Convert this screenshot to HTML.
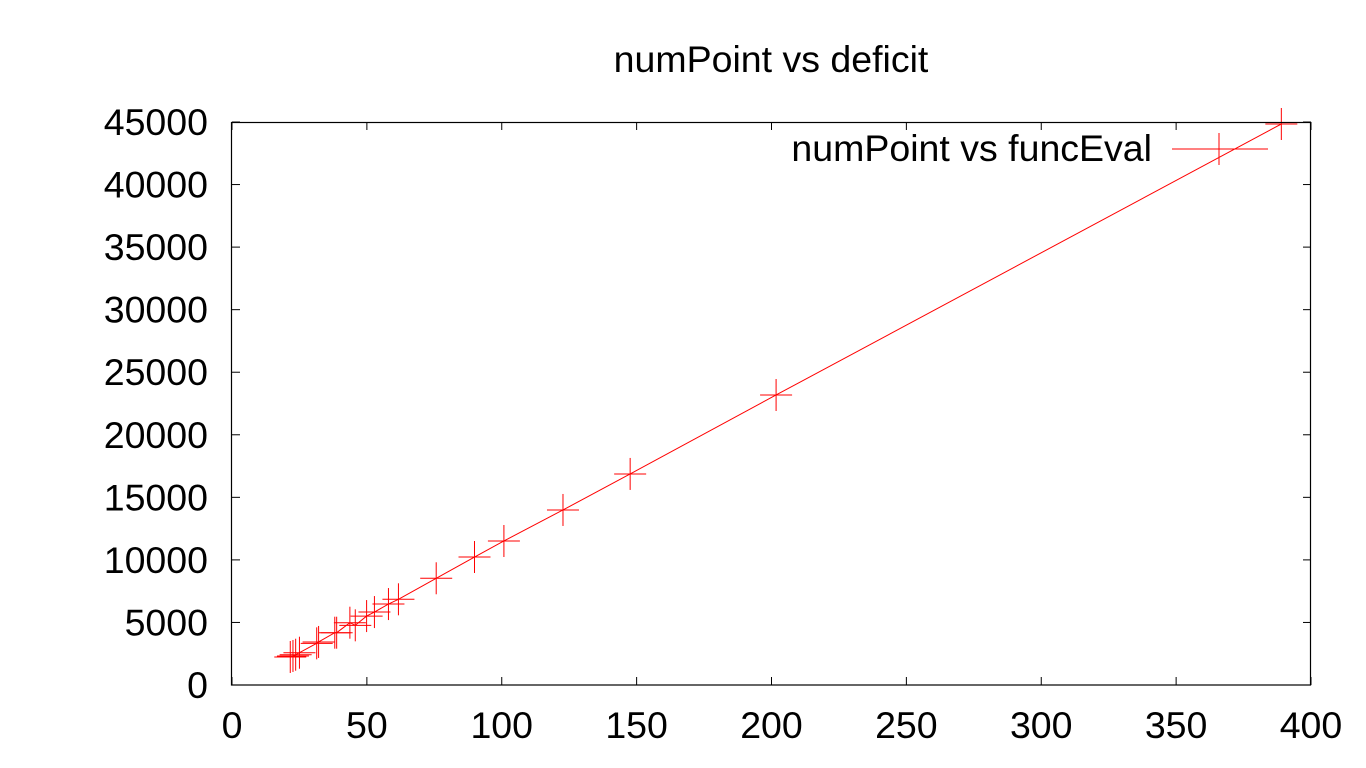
<!DOCTYPE html>
<html><head><meta charset="utf-8"><style>
html,body{margin:0;padding:0;background:#fff;}
svg{display:block;font-family:"Liberation Sans",sans-serif;}
</style></head><body>
<svg id="chart" width="1366" height="768">
<rect width="1366" height="768" fill="#fff"/>
<text x="771" y="72" font-size="37.5" text-anchor="middle">numPoint vs deficit</text>
<g id="axes"></g>
<g id="series"></g>
<rect x="231.5" y="122.5" width="1079" height="562.5" fill="none" stroke="#000" stroke-width="1.2"/>
<g>
<text x="1152" y="161" font-size="37.5" text-anchor="end">numPoint vs funcEval</text>
<line x1="1172" y1="149" x2="1268" y2="149" stroke="red" stroke-width="1"/>
<line x1="1219" y1="133" x2="1219" y2="165" stroke="red" stroke-width="1"/>
</g>
</svg>
<script>
const xTicks=[0,50,100,150,200,250,300,350,400];
const yTicks=[0,5000,10000,15000,20000,25000,30000,35000,40000,45000];
const xs=[21.6,22.6,23.6,25,31.4,32.1,38.1,38.8,43.7,45.7,49.9,52.8,58,61.7,75.7,89.9,100.8,122.7,147.6,201.7,389];
const ys=[2240,2320,2420,2580,3330,3440,4180,4180,4980,4770,5510,5830,6470,6850,8530,10230,11510,13990,16870,23180,44840];
const X0=232,X1=1311,Y0=685,Y1=122;
const sx=v=>X0+(v-0)/400*(X1-X0);
const sy=v=>Y0-(v-0)/45000*(Y0-Y1);
const NS="http://www.w3.org/2000/svg";
const axes=document.getElementById('axes'),ser=document.getElementById('series');
function mk(tag,at,par){const e=document.createElementNS(NS,tag);for(const k in at)e.setAttribute(k,at[k]);par.appendChild(e);return e;}
xTicks.forEach(t=>{
 const l=mk('line',{x1:sx(t),x2:sx(t),y1:Y0,y2:Y0-8,stroke:'#000'},axes);
 
 
 const l2=mk('line',{x1:sx(t),x2:sx(t),y1:Y1,y2:Y1+8,stroke:'#000'},axes);
 
 
 const tx=mk('text',{x:sx(t),y:738,'font-size':37.5,'text-anchor':'middle'},axes);tx.textContent=t;
 
 
});
yTicks.forEach(t=>{
 const l=mk('line',{x1:X0,x2:X0+8,y1:sy(t),y2:sy(t),stroke:'#000'},axes);
 
 
 const l2=mk('line',{x1:X1,x2:X1-8,y1:sy(t),y2:sy(t),stroke:'#000'},axes);
 
 
 const tx=mk('text',{x:208,y:sy(t)+13,'font-size':37.5,'text-anchor':'end'},axes);tx.textContent=t;
 
 
});
const pl=mk('polyline',{points:xs.map((v,i)=>sx(v)+','+sy(ys[i])).join(' '),fill:'none',stroke:'red','stroke-width':1},ser);


xs.forEach((v,i)=>{
 const g=mk('g',{},ser);
 
 
 const cx=sx(v),cy=sy(ys[i]);
 mk('line',{x1:cx-16,x2:cx+16,y1:cy,y2:cy,stroke:'red','stroke-width':1},g);
 mk('line',{x1:cx,x2:cx,y1:cy-16,y2:cy+16,stroke:'red','stroke-width':1},g);
});
</script>
</body></html>
